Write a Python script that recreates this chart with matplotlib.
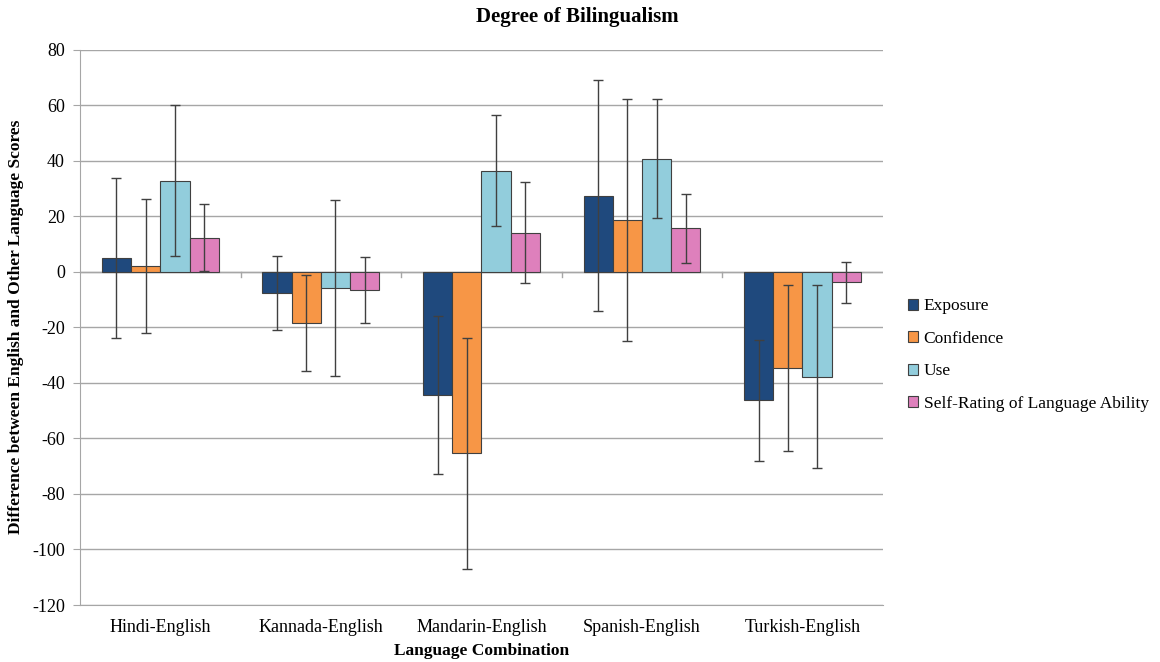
import numpy as np
import matplotlib.pyplot as plt

plt.rcParams['font.family'] = ['Liberation Serif', 'DejaVu Serif']
plt.rcParams['axes.unicode_minus'] = False

combos = ["Hindi-English", "Kannada-English", "Mandarin-English", "Spanish-English", "Turkish-English"]
measures = ["Exposure", "Confidence", "Use", "Self-Rating of Language Ability"]

# mean difference (English minus other language) per combination
exposure = [5.0, -7.7, -44.5, 27.3, -46.3]
confidence = [2.2, -18.6, -65.4, 18.6, -34.6]
use = [32.8, -5.8, 36.4, 40.7, -37.8]
self_rating = [12.3, -6.5, 14.1, 15.6, -3.8]

# standard deviations for the error bars
exposure_sd = [28.9, 13.3, 28.5, 41.6, 21.8]
confidence_sd = [24.1, 17.3, 41.6, 43.5, 30.0]
use_sd = [27.2, 31.7, 20.0, 21.4, 32.9]
self_rating_sd = [12.0, 11.8, 18.2, 12.4, 7.3]

series = [exposure, confidence, use, self_rating]
errors = [exposure_sd, confidence_sd, use_sd, self_rating_sd]
colors = ["#1F497D", "#F79646", "#92CDDC", "#DE80BC"]

fig = plt.figure(figsize=(11.6, 6.62), dpi=100)
ax = fig.add_axes([0.069, 0.0861, 0.692, 0.839])

x = np.arange(len(combos))
w = 0.182
for i, (vals, sd, c, name) in enumerate(zip(series, errors, colors, measures)):
    pos = x + (i - 1.5) * w
    ax.bar(pos, vals, width=w, color=c, edgecolor="#404040", linewidth=0.8,
           label=name, zorder=3)
    ax.errorbar(pos, vals, yerr=sd, fmt="none", ecolor="#404040",
                elinewidth=1.0, capsize=3.5, capthick=1.0, zorder=4)

ax.set_xlim(-0.5, len(combos) - 0.5)
ax.set_ylim(-120, 80)
ax.set_yticks(np.arange(-120, 81, 20))
ax.yaxis.grid(True, color="#A6A6A6", linewidth=1.0, zorder=0)
ax.axhline(0, color="#A6A6A6", linewidth=1.0, zorder=2)

# category boundary ticks sit on the zero line
for b in np.arange(0.5, len(combos) - 0.5, 1.0):
    ax.plot([b, b], [0, -1.8], color="#A6A6A6", linewidth=1.0, zorder=2)

ax.set_xticks(x)
ax.set_xticklabels(combos, fontsize=13)
ax.tick_params(axis="x", length=0, pad=10)
ax.tick_params(axis="y", labelsize=13, length=5, color="#A6A6A6", pad=6)

for s in ["top", "right"]:
    ax.spines[s].set_visible(False)
ax.spines["left"].set_color("#A6A6A6")
ax.spines["bottom"].set_color("#A6A6A6")

ax.set_xlabel("Language Combination", fontsize=12.5, fontweight="bold", labelpad=5)
ax.set_ylabel("Difference between English and Other Language Scores",
              fontsize=12.5, fontweight="bold", labelpad=6)
fig.text(0.498, 0.975, "Degree of Bilingualism", fontsize=15, fontweight="bold",
         ha="center", va="center")

ax.legend(loc="center left", bbox_to_anchor=(1.012, 0.45), frameon=False,
          fontsize=12.5, handlelength=0.6, handleheight=0.6, handletextpad=0.3,
          labelspacing=0.95)

fig.savefig("out.png", dpi=100)
